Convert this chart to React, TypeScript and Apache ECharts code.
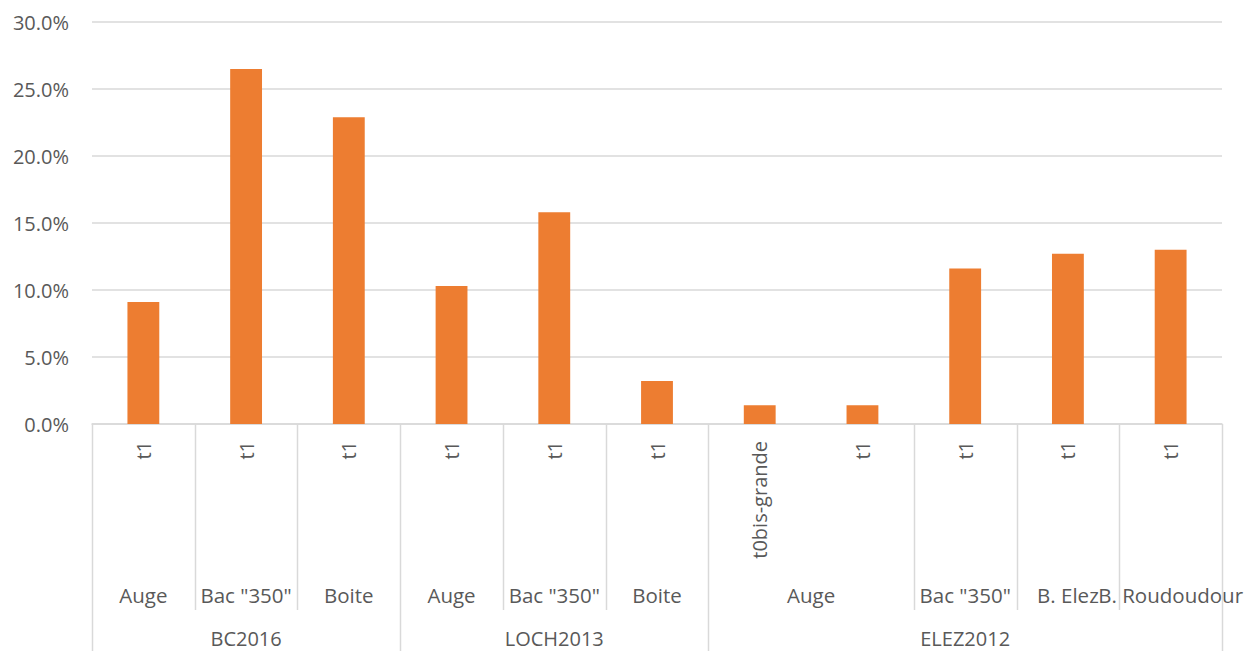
import React, { useEffect, useRef } from "react";
import * as echarts from "echarts";

const leafLabels = ["t1", "t1", "t1", "t1", "t1", "t1", "t0bis-grande", "t1", "t1", "t1", "t1"];
const values = [9.1, 26.5, 22.9, 10.3, 15.8, 3.2, 1.4, 1.4, 11.6, 12.7, 13.0];
const level2Labels = ["Auge", 'Bac "350"', "Boite", "Auge", 'Bac "350"', "Boite", "Auge", 'Bac "350"', "B. Elez", "B. Roudoudour"];
const level2Spans = [1, 1, 1, 1, 1, 1, 2, 1, 1, 1];
const level3Labels = ["BC2016", "LOCH2013", "ELEZ2012"];
const level3Spans = [3, 3, 5];
const yTicks = { min: 0, max: 30, interval: 5 };

const FONT = "'Open Sans', sans-serif";
const TEXT = "#595959";
const LINE = "#d9d9d9";

export default function App() {
  const ref = useRef<HTMLDivElement>(null);
  useEffect(() => {
    document.body.style.margin = "0";
    const chart = echarts.init(ref.current!, null, { renderer: "svg" });
    const option: any = {
      animation: false,
      grid: { left: 92, right: 23, top: 22, bottom: 227, containLabel: false },
      xAxis: {
        type: "category",
        data: leafLabels,
        axisTick: { show: false },
        axisLine: { show: true, lineStyle: { color: LINE, width: 1.5 } },
        axisLabel: {
          rotate: 90,
          margin: 17,
          interval: 0,
          color: TEXT,
          fontFamily: FONT,
          fontSize: 20,
        },
      },
      yAxis: {
        type: "value",
        min: yTicks.min,
        max: yTicks.max,
        interval: yTicks.interval,
        axisLine: { show: false },
        axisTick: { show: false },
        splitLine: { lineStyle: { color: LINE, width: 1.5 } },
        axisLabel: {
          formatter: (v: number) => v.toFixed(1) + "%",
          color: TEXT,
          fontFamily: FONT,
          fontSize: 20,
          margin: 23,
        },
      },
      series: [
        {
          type: "bar",
          data: values,
          barWidth: "31%",
          itemStyle: { color: "#ED7D31" },
        },
      ],
    };
    chart.setOption(option);

    const c0 = chart.convertToPixel({ xAxisIndex: 0 }, 0) as number;
    const c1 = chart.convertToPixel({ xAxisIndex: 0 }, 1) as number;
    const w = c1 - c0;
    const bx = (i: number) => c0 - w / 2 + i * w;
    const axisY = chart.convertToPixel({ yAxisIndex: 0 }, 0) as number;
    const lvl2Bottom = 610;
    const lvl3Bottom = 651;
    const lvl2Y = 595;
    const lvl3Y = 638;

    const graphics: any[] = [];
    const fullBounds = new Set<number>([0]);
    let acc = 0;
    level3Spans.forEach((s, k) => {
      const start = acc;
      acc += s;
      fullBounds.add(acc);
      graphics.push({
        type: "text",
        x: (bx(start) + bx(acc)) / 2,
        y: lvl3Y,
        style: { text: level3Labels[k], fill: TEXT, font: `20px ${FONT}`, textAlign: "center", textVerticalAlign: "middle" },
      });
    });
    acc = 0;
    const lvl2Bounds: number[] = [];
    level2Spans.forEach((s, k) => {
      const start = acc;
      acc += s;
      lvl2Bounds.push(acc);
      graphics.push({
        type: "text",
        x: (bx(start) + bx(acc)) / 2,
        y: lvl2Y,
        style: { text: level2Labels[k], fill: TEXT, font: `20.5px ${FONT}`, textAlign: "center", textVerticalAlign: "middle" },
      });
    });
    const allBounds = new Set<number>([0, ...lvl2Bounds]);
    allBounds.forEach((b) => {
      const x = Math.round(bx(b)) + 0.5;
      graphics.push({
        type: "line",
        shape: { x1: x, y1: axisY, x2: x, y2: fullBounds.has(b) ? lvl3Bottom : lvl2Bottom },
        style: { stroke: LINE, lineWidth: 1.5 },
      });
    });
    chart.setOption({ graphic: graphics });
    return () => chart.dispose();
  }, []);
  return <div ref={ref} style={{ width: 1245, height: 651 }} />;
}
